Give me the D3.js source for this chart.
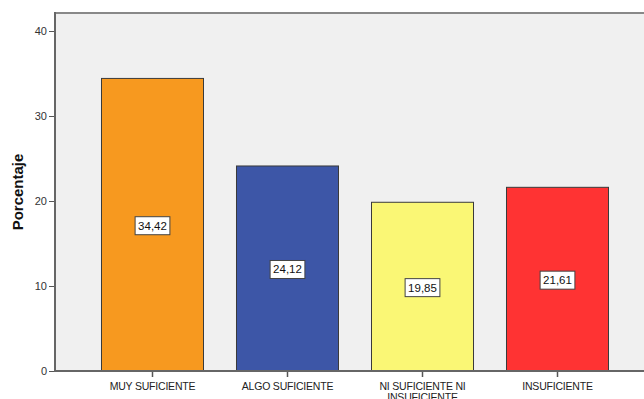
<!DOCTYPE html>
<html>
<head>
<meta charset="utf-8">
<script src="https://cdn.jsdelivr.net/npm/d3@7"></script>
<style>
html,body{margin:0;padding:0;background:#fff;}
svg{display:block;font-family:"Liberation Sans",Arial,sans-serif;}
</style>
</head>
<body>
<svg id="chart" width="644" height="399"></svg>
<script>
const categories = ["MUY SUFICIENTE", "ALGO SUFICIENTE", "NI SUFICIENTE NI INSUFICIENTE", "INSUFICIENTE"];
const values = [34.42, 24.12, 19.85, 21.61];
const colors = ["#F7991F", "#3D56A7", "#FAF775", "#FF3333"];
const yTicks = [0, 10, 20, 30, 40];
const yTitle = "Porcentaje";

(function () {
const svg = d3.select("#chart");
const mLeft = 55, mRight = 655, mTop = 13, mBottom = 371;

const x = d3.scaleBand().domain(categories).range([mLeft, mRight])
  .paddingInner(0.2444).paddingOuter(0.3444);
const y = d3.scaleLinear().domain([0, 40]).range([mBottom, 31]);
const locale = d3.formatLocale({decimal: ",", thousands: ".", grouping: [3], currency: ["", ""]});
const fmt = locale.format(".2f");

// plot background
svg.append("rect").attr("x", mLeft).attr("y", mTop)
  .attr("width", 644 - mLeft + 10).attr("height", mBottom - mTop)
  .attr("fill", "#F0F0F0");

// top border
svg.append("line").attr("x1", mLeft).attr("x2", 644).attr("y1", mTop).attr("y2", mTop)
  .attr("stroke", "#888").attr("stroke-width", 2);

// bars
svg.selectAll("rect.bar").data(values).join("rect").attr("class", "bar")
  .attr("x", (d, i) => x(categories[i]))
  .attr("y", d => y(d))
  .attr("width", x.bandwidth())
  .attr("height", d => mBottom - y(d))
  .attr("fill", (d, i) => colors[i])
  .attr("stroke", "#3a3a3a").attr("stroke-width", 1);

// y axis
const yAxis = d3.axisLeft(y).tickValues(yTicks).tickSize(6).tickPadding(2).tickFormat(d3.format("d"));
const gy = svg.append("g").attr("transform", `translate(${mLeft},0)`).call(yAxis);
gy.select(".domain").remove();
gy.selectAll(".tick line").attr("stroke", "#555").attr("stroke-width", 1);
gy.selectAll(".tick text").attr("fill", "#333").style("font-size", "11px")
  .style("font-family", "'Liberation Sans', Arial, sans-serif");
svg.append("line").attr("x1", mLeft).attr("x2", mLeft).attr("y1", mTop - 1).attr("y2", mBottom + 1)
  .attr("stroke", "#666").attr("stroke-width", 2);

// x axis
const xAxis = d3.axisBottom(x).tickSize(6).tickPadding(4);
const gx = svg.append("g").attr("transform", `translate(0,${mBottom})`).call(xAxis);
gx.select(".domain").remove();
gx.selectAll(".tick line").attr("stroke", "#555").attr("stroke-width", 1.5);
gx.selectAll(".tick text").remove();
svg.append("line").attr("x1", mLeft).attr("x2", 644).attr("y1", mBottom).attr("y2", mBottom)
  .attr("stroke", "#666").attr("stroke-width", 2);

// category labels (wrap)
const maxW = 100;
categories.forEach(c => {
  const words = c.split(" ");
  const lines = [];
  let cur = "";
  const t = svg.append("text").attr("text-anchor", "middle")
    .attr("x", x(c) + x.bandwidth() / 2).attr("y", 390)
    .attr("fill", "#222").style("font-size", "10.5px").style("letter-spacing", "-0.2px");
  const test = svg.append("text").style("font-size", "10.5px").style("letter-spacing", "-0.2px");
  words.forEach(w => {
    const cand = cur ? cur + " " + w : w;
    test.text(cand);
    if (test.node().getComputedTextLength() > maxW && cur) { lines.push(cur); cur = w; }
    else cur = cand;
  });
  lines.push(cur);
  test.remove();
  lines.forEach((ln, k) => {
    t.append("tspan").attr("x", x(c) + x.bandwidth() / 2).attr("dy", k === 0 ? 0 : 11).text(ln);
  });
});

// value labels
values.forEach((v, i) => {
  const cx = x(categories[i]) + x.bandwidth() / 2;
  const cy = y(v / 2) + 1;
  const g = svg.append("g");
  const txt = g.append("text").attr("x", cx).attr("y", cy + 4).attr("text-anchor", "middle")
    .attr("fill", "#111").style("font-size", "11.5px").text(fmt(v));
  const w = txt.node().getComputedTextLength() + 6;
  g.insert("rect", "text").attr("x", cx - w / 2).attr("y", cy - 9).attr("width", w).attr("height", 18)
    .attr("fill", "#fff").attr("stroke", "#444").attr("stroke-width", 1);
});

// y title
svg.append("text").attr("transform", `translate(23,${(mTop + mBottom) / 2}) rotate(-90)`)
  .attr("text-anchor", "middle").attr("fill", "#111")
  .style("font-size", "15px").style("font-weight", "bold").text(yTitle);
})();
</script>
</body>
</html>
